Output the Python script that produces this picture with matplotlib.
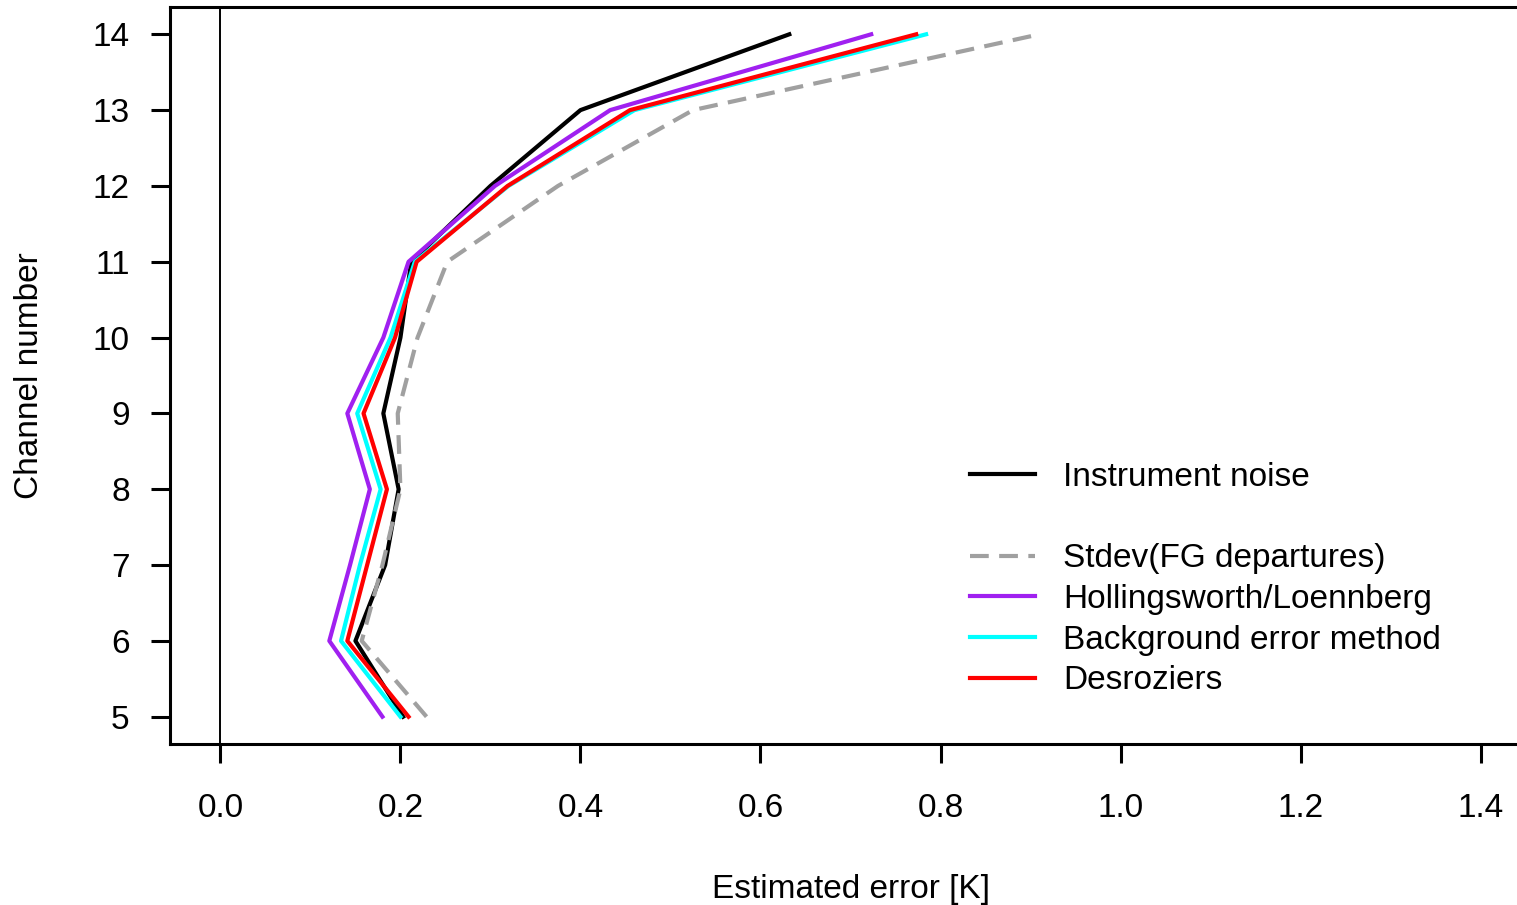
import matplotlib
matplotlib.use("Agg")
import matplotlib.pyplot as plt
from matplotlib.lines import Line2D

plt.rcParams['font.family'] = ['Liberation Sans', 'DejaVu Sans']

channels = [5, 6, 7, 8, 9, 10, 11, 12, 13, 14]
noise = [0.203, 0.150, 0.183, 0.198, 0.181, 0.200, 0.212, 0.300, 0.400, 0.632]
stdev_fg = [0.229, 0.157, 0.180, 0.200, 0.197, 0.219, 0.252, 0.375, 0.525, 0.910]
hollingsworth = [0.180, 0.121, 0.144, 0.166, 0.141, 0.181, 0.209, 0.305, 0.433, 0.723]
background = [0.200, 0.134, 0.155, 0.178, 0.152, 0.189, 0.216, 0.320, 0.460, 0.784]
desroziers = [0.209, 0.141, 0.163, 0.185, 0.159, 0.194, 0.218, 0.319, 0.455, 0.773]

labels = ["Instrument noise", "Stdev(FG departures)", "Hollingsworth/Loennberg",
          "Background error method", "Desroziers"]
xticks = [0.0, 0.2, 0.4, 0.6, 0.8, 1.0, 1.2, 1.4]

W, H = 1517, 905
fs = 24
fig = plt.figure(figsize=(W / 100, H / 100), dpi=100)
# box runs past the right edge of the figure, like the original
ax = fig.add_axes([170 / W, 1 - 744 / H, (1531 - 170) / W, (744 - 7) / H])

lw = 3.0
dash = (4.5, 2.5)
ax.axvline(0, color="black", lw=1.4)
ax.plot(noise, channels, color="black", lw=lw)
ax.plot(stdev_fg, channels, color="#a0a0a0", lw=lw, dashes=dash)
ax.plot(hollingsworth, channels, color="#a020f0", lw=lw)
ax.plot(background, channels, color="#00ffff", lw=lw)
ax.plot(desroziers, channels, color="#ff0000", lw=lw)

ax.set_xlim(-0.056, 1.456)
ax.set_ylim(4.64, 14.36)
ax.set_xticks(xticks)
ax.set_xticklabels([f"{v:.1f}" for v in xticks])
ax.set_yticks(channels)

for s in ax.spines.values():
    s.set_linewidth(2.2)
ax.spines['right'].set_visible(False)
ax.tick_params(axis="both", direction="out", length=14, width=2.2, labelsize=fs)
ax.tick_params(axis="x", pad=21)
ax.tick_params(axis="y", pad=15)

ax.set_xlabel("Estimated error [K]", fontsize=fs, labelpad=36)
ax.set_ylabel("Channel number", fontsize=fs, labelpad=34)

handles = [Line2D([], [], color="black", lw=lw),
           Line2D([], [], color="none"),
           Line2D([], [], color="#a0a0a0", lw=lw, dashes=dash),
           Line2D([], [], color="#a020f0", lw=lw),
           Line2D([], [], color="#00ffff", lw=lw),
           Line2D([], [], color="#ff0000", lw=lw)]
leg_labels = [labels[0], " "] + labels[1:]
ax.legend(handles, leg_labels, loc="upper left",
          bbox_to_anchor=(970 / W, 1 - 462 / H), bbox_transform=fig.transFigure,
          frameon=False, fontsize=fs, handlelength=1.95, handletextpad=0.84,
          labelspacing=0.29, borderaxespad=0, borderpad=0)

fig.savefig("out.png", dpi=100)
